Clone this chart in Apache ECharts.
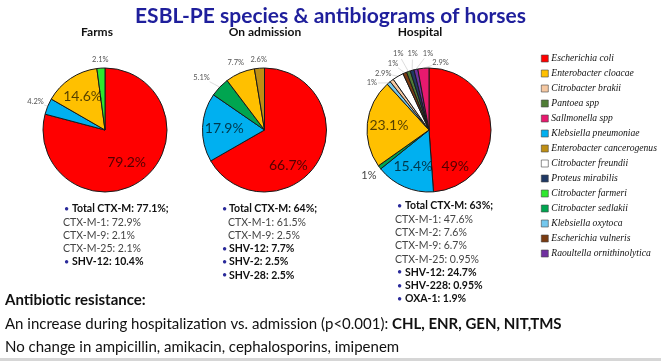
<!DOCTYPE html>
<html><head><meta charset="utf-8">
<script src="https://cdn.jsdelivr.net/npm/echarts@6/dist/echarts.min.js"></script>
<style>html,body{margin:0;padding:0;background:#fff}#c{width:661px;height:361px}</style>
</head><body><div id="c"></div>
<script>
// ---- legend / species ----
const species = ['Escherichia coli','Enterobacter cloacae','Citrobacter brakii','Pantoea spp','Sallmonella spp',
  'Klebsiella pneumoniae','Enterobacter cancerogenus','Citrobacter freundii','Proteus mirabilis','Citrobacter farmeri',
  'Citrobacter sedlakii','Klebsiella oxytoca','Escherichia vulneris','Raoultella ornithinolytica'];
const speciesColors = ['#ff0000','#ffc000','#f5c8a2','#4f7d35','#e8196e',
  '#00b0f0','#bf8f14','#ffffff','#1f3864','#2ee82e',
  '#00a550','#74c8ee','#7a3b12','#7030a0'];

// ---- pie data ----
const farmsNames = ['Escherichia coli','Klebsiella pneumoniae','Enterobacter cloacae','Citrobacter farmeri'];
const farmsValues = [79.2, 4.2, 14.6, 2.1];
const admissionNames = ['Escherichia coli','Klebsiella pneumoniae','Citrobacter sedlakii','Enterobacter cloacae','Enterobacter cancerogenus'];
const admissionValues = [66.7, 17.9, 5.1, 7.7, 2.6];
const hospitalNames = ['Escherichia coli','Klebsiella pneumoniae','Citrobacter sedlakii','Enterobacter cloacae',
  'Klebsiella oxytoca','Citrobacter brakii','Citrobacter freundii','Escherichia vulneris','Pantoea spp',
  'Proteus mirabilis','Raoultella ornithinolytica','Sallmonella spp'];
const hospitalValues = [49, 15.4, 1, 23.1, 1, 1, 2.9, 1, 1, 1, 1, 2.9];

// ---- texts ----
const titleText = 'ESBL-PE species & antibiograms of horses';
const pieTitles = ['Farms', 'On admission', 'Hospital'];
const farmsNotes = ['• Total CTX-M: 77.1%;', 'CTX-M-1: 72.9%', 'CTX-M-9: 2.1%', 'CTX-M-25: 2.1%', '• SHV-12: 10.4%'];
const admissionNotes = ['• Total CTX-M: 64%;', 'CTX-M-1: 61.5%', 'CTX-M-9: 2.5%', '• SHV-12: 7.7%', '• SHV-2: 2.5%', '• SHV-28: 2.5%'];
const hospitalNotes = ['• Total CTX-M: 63%;', 'CTX-M-1: 47.6%', 'CTX-M-2: 7.6%', 'CTX-M-9: 6.7%', 'CTX-M-25: 0.95%',
  '• SHV-12: 24.7%', '• SHV-228: 0.95%', '• OXA-1: 1.9%'];
const resistanceHeading = 'Antibiotic resistance:';
const resistanceLine1 = 'An increase during hospitalization vs. admission (p<0.001): ';
const resistanceLine1Bold = 'CHL, ENR, GEN, NIT,TMS';
const resistanceLine2 = 'No change in ampicillin, amikacin, cephalosporins, imipenem';

const FONT = 'Lato, "Open Sans", sans-serif';
const R = 62;
const colorOf = n => speciesColors[species.indexOf(n)];

// label placement: inside labels at 0.65 r on the slice's mid angle, outside labels just beyond the rim,
// with optional small nudges (style) per label
function makeLayout(center, values, extra) {
  const total = values.reduce((a, b) => a + b, 0);
  const mids = []; let cum = 0;
  values.forEach(v => { mids.push((cum + v / 2) / total * Math.PI * 2); cum += v; });
  return function (p) {
    const i = p.dataIndex, th = mids[i], s = Math.sin(th), c = -Math.cos(th);
    const e = (extra && extra[i]) || {};
    const sh = e.shift || [0, 0];
    const w = p.labelRect.width, h = p.labelRect.height;
    if (values[i] >= 10) {
      return { x: center[0] + 0.65 * R * s + sh[0], y: center[1] + 0.65 * R * c + sh[1], align: 'center', verticalAlign: 'middle' };
    }
    const d = R + 4 + Math.abs(s) * w / 2 + Math.abs(c) * h / 2;
    const x = center[0] + d * s + sh[0], y = center[1] + d * c + sh[1];
    const ex = center[0] + R * s, ey = center[1] + R * c;
    const vx = x - ex, vy = y - ey, L = Math.sqrt(vx * vx + vy * vy);
    const k = Math.max(0, (L - Math.max(w, h) / 2 - 1) / L);
    const tx = ex + vx * k, ty = ey + vy * k;
    return { x: x, y: y, align: 'center', verticalAlign: 'middle',
      labelLinePoints: [[ex, ey], [(ex + tx) / 2, (ey + ty) / 2], [tx, ty]] };
  };
}

function makePie(names, values, center, extra) {
  return {
    type: 'pie', radius: R, center: center, startAngle: 90, clockwise: true,
    avoidLabelOverlap: false, silent: true, animation: false,
    itemStyle: { borderColor: '#1a1a1a', borderWidth: 1 },
    labelLayout: makeLayout(center, values, extra),
    data: names.map((n, i) => {
      const big = values[i] >= 10;
      const e = (extra && extra[i]) || {};
      return {
        name: n, value: values[i],
        itemStyle: { color: colorOf(n) },
        label: big
          ? { show: true, position: 'inside', formatter: '{c}%', fontFamily: FONT, fontSize: 14, color: 'rgba(0,0,0,0.68)' }
          : Object.assign({ show: true, position: 'outside', formatter: '{c}%', fontFamily: FONT, fontSize: 7.5, color: '#555' }, e.label || {}),
        labelLine: big ? { show: false }
          : Object.assign({ show: true, length: 4, length2: 2, lineStyle: { color: '#c4c4c4', width: 0.6 } }, e.labelLine || {})
      };
    })
  };
}

const farmsExtra = { 0: { shift: [-3, 1] } };
const admissionExtra = { 0: { shift: [-11, 15] }, 2: { shift: [-9, -1] } };
const hospitalExtra = {
  0: { shift: [-14, 38] },
  2: { label: { fontSize: 11, color: '#444' }, labelLine: { show: false } },
  4: { shift: [-10, 8] },
  5: { label: { show: false }, labelLine: { show: false } },
  6: { shift: [-9, 7] },
  7: { shift: [-8, 0] },
  8: { shift: [-7, -9] },
  9: { shift: [3, -8] },
  10: { shift: [14, -7] },
  11: { shift: [18, 3] }
};

// ---- graphic texts ----
const graphics = [];
[[97, 32], [265, 32], [420, 32]].forEach((p, i) => {
  graphics.push({ type: 'text', x: p[0], y: p[1], style: { text: pieTitles[i], fontFamily: FONT, fontWeight: 'bold', fontSize: 12, fill: '#111', align: 'center', verticalAlign: 'middle' } });
});
function addNotes(lines, bulletX, textX, plainX, top, step) {
  lines.forEach((l, i) => {
    const y = top + i * step;
    if (l.startsWith('• ')) {
      graphics.push({ type: 'text', x: bulletX, y: y, style: { text: '•', fontFamily: FONT, fontSize: 9, fill: '#2a2a9a', verticalAlign: 'middle' } });
      graphics.push({ type: 'text', x: textX, y: y, style: { text: l.slice(2), fontFamily: FONT, fontWeight: 'bold', fontSize: 10.5, fill: '#111', verticalAlign: 'middle' } });
    } else {
      graphics.push({ type: 'text', x: plainX, y: y, style: { text: l, fontFamily: FONT, fontSize: 10.5, fill: '#444', verticalAlign: 'middle' } });
    }
  });
}
addNotes(farmsNotes, 64, 72, 63, 209, 13.25);
addNotes(admissionNotes, 222, 229, 228, 209, 13.25);
addNotes(hospitalNotes, 397, 405, 395, 206, 13.3);
graphics.push({ type: 'text', x: 5, y: 300, style: { text: resistanceHeading, fontFamily: FONT, fontWeight: 'bold', fontSize: 15, fill: '#111', verticalAlign: 'middle' } });
graphics.push({ type: 'text', x: 5, y: 324, style: {
  text: resistanceLine1 + '{b|' + resistanceLine1Bold + '}', fontFamily: FONT, fontSize: 15, fill: '#111', verticalAlign: 'middle',
  rich: { b: { fontFamily: FONT, fontSize: 15, fontWeight: 'bold', fill: '#111' } } } });
graphics.push({ type: 'text', x: 5, y: 347, style: { text: resistanceLine2, fontFamily: FONT, fontSize: 15, fill: '#111', verticalAlign: 'middle' } });
graphics.push({ type: 'rect', shape: { x: 0, y: 358, width: 661, height: 3 }, style: { fill: '#d6d6d6' } });

const chart = echarts.init(document.getElementById('c'), null, { renderer: 'canvas' });
chart.setOption({
  animation: false,
  backgroundColor: '#fff',
  title: { text: titleText, left: 'center', top: 1, textStyle: { fontFamily: FONT, fontWeight: 'bold', fontSize: 21, color: '#1f1f9c' } },
  legend: {
    orient: 'vertical', left: 536, top: 47, data: species, icon: 'rect', itemWidth: 7, itemHeight: 7, itemGap: 2,
    selectedMode: false,
    itemStyle: { borderColor: '#444', borderWidth: 0.6 },
    textStyle: { fontFamily: '"Liberation Serif", serif', fontStyle: 'italic', fontSize: 9.6, color: '#111', lineHeight: 13, padding: [0, 0, 0, -2] }
  },
  series: [
    makePie(farmsNames, farmsValues, [105, 130], farmsExtra),
    makePie(admissionNames, admissionValues, [264.5, 130], admissionExtra),
    makePie(hospitalNames, hospitalValues, [429, 130], hospitalExtra)
  ],
  graphic: graphics
});
</script></body></html>
